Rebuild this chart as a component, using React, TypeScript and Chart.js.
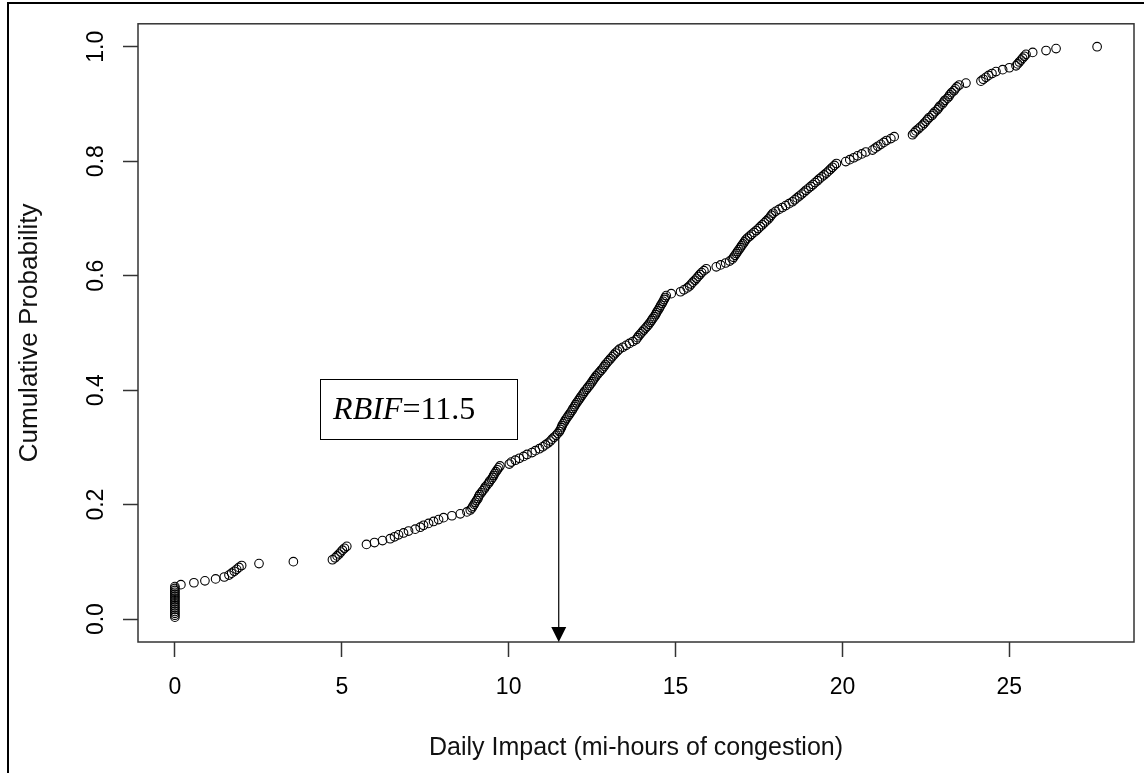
import React, { useEffect, useRef } from "react";
import { Chart, registerables } from "chart.js";

Chart.register(...registerables);

// Daily impact of each observed day (mi-hours of congestion), sorted ascending
const dailyImpact: number[] = [
  0, 0, 0, 0, 0, 0, 0, 0, 0, 0, 0, 0, 0, 0, 0, 0, 0,
  0.18, 0.57, 0.9, 1.22, 1.48, 1.62, 1.7, 1.78, 1.85, 1.92, 2.0, 2.52, 3.55,
  4.72, 4.8, 4.86, 4.92, 4.97, 5.02, 5.08, 5.15,
  5.74, 5.98, 6.22, 6.45, 6.58, 6.7, 6.85, 7.0, 7.2, 7.35, 7.45, 7.6, 7.75, 7.9, 8.05, 8.3, 8.55, 8.75,
  8.85, 8.9, 8.93, 8.97, 9.0, 9.04, 9.08, 9.1, 9.13, 9.18, 9.22, 9.27, 9.3, 9.35, 9.4, 9.43, 9.48, 9.52,
  9.55, 9.58, 9.62, 9.66, 9.7, 9.74,
  10.02, 10.08, 10.2, 10.32, 10.45,
  10.55, 10.7, 10.8, 10.92, 11.02, 11.1,
  11.18, 11.25, 11.3, 11.36, 11.42, 11.47,
  11.52, 11.55, 11.58, 11.6, 11.63, 11.67, 11.7, 11.74, 11.78, 11.82, 11.86, 11.9, 11.93, 11.97, 12.0, 12.04,
  12.08, 12.12, 12.16, 12.2, 12.24, 12.28, 12.33, 12.37, 12.42, 12.46, 12.5, 12.54, 12.58, 12.62, 12.67, 12.72,
  12.77, 12.82, 12.86, 12.9, 12.95, 13.0, 13.05, 13.1, 13.15, 13.2, 13.26, 13.32,
  13.42, 13.52, 13.62, 13.72, 13.82,
  13.86, 13.9, 13.95, 14.0, 14.05, 14.1, 14.15, 14.2, 14.24, 14.28, 14.32,
  14.36, 14.4, 14.43, 14.46, 14.5, 14.53, 14.56, 14.6, 14.63, 14.66, 14.69, 14.72,
  14.87,
  15.15, 15.25, 15.35, 15.42,
  15.47, 15.52, 15.58, 15.63, 15.68, 15.73, 15.78, 15.85, 15.92,
  16.22, 16.35, 16.5, 16.62,
  16.7, 16.74, 16.78, 16.82, 16.86, 16.9, 16.94, 16.98, 17.02, 17.06, 17.1, 17.15, 17.22,
  17.28, 17.35, 17.42, 17.48, 17.54, 17.6, 17.66, 17.72, 17.78, 17.83, 17.87, 17.92,
  18.0, 18.1, 18.2, 18.3, 18.4, 18.5,
  18.57, 18.64, 18.71, 18.78, 18.85, 18.91,
  18.98, 19.05, 19.12, 19.18, 19.25, 19.31,
  19.38, 19.45, 19.52, 19.58, 19.64, 19.7, 19.76, 19.82,
  20.1, 20.22, 20.34, 20.45, 20.58, 20.7,
  20.9, 20.98, 21.06, 21.15, 21.24, 21.32,
  21.45, 21.55,
  22.1, 22.15, 22.2, 22.27, 22.33, 22.4, 22.45, 22.5,
  22.55, 22.6, 22.68, 22.72, 22.77, 22.84, 22.88, 22.92, 22.99, 23.03, 23.07, 23.14, 23.19, 23.22, 23.27,
  23.34, 23.38, 23.43, 23.5,
  23.7,
  24.15, 24.22, 24.3, 24.38, 24.48, 24.6,
  24.8, 25.0,
  25.2, 25.25, 25.3, 25.35, 25.4, 25.45, 25.5,
  25.7, 26.1, 26.4, 27.63,
];

const xTickValues: number[] = [0, 5, 10, 15, 20, 25];
const yTickValues: number[] = [0, 0.2, 0.4, 0.6, 0.8, 1.0];

const xAxisTitle = "Daily Impact (mi-hours of congestion)";
const yAxisTitle = "Cumulative Probability";

// Reliability-based impact factor marked on the curve
const rbifName = "RBIF";
const rbifValue = 11.5;

// Empirical cumulative probability of each sorted day
const cumulativeProbability: number[] = dailyImpact.map((_, i) => (i + 1) / dailyImpact.length);

// Label box placement, in axis units
const labelBox = { xFrom: 4.35, xTo: 10.25, yFrom: 0.316, yTo: 0.42 };

const SANS = "'Liberation Sans', Arial, Helvetica, sans-serif";
const SERIF = "'Liberation Serif', 'Times New Roman', Times, serif";

// R-style axis ranges: data range widened by 4% on each side
const xLo = Math.min(...dailyImpact);
const xHi = Math.max(...dailyImpact);
const xPad = (xHi - xLo) * 0.04;
const yLo = 0;
const yHi = 1;
const yPad = (yHi - yLo) * 0.04;

const decorations = {
  id: "decorations",
  afterDraw(chart: any) {
    const { ctx, chartArea: a, scales } = chart;
    const xs = scales.x;
    const ys = scales.y;
    ctx.save();

    // figure frame
    ctx.strokeStyle = "#000";
    ctx.lineWidth = 2;
    ctx.beginPath();
    ctx.moveTo(8, chart.height);
    ctx.lineTo(8, 3);
    ctx.lineTo(chart.width, 3);
    ctx.stroke();

    // plot box
    ctx.strokeStyle = "#333";
    ctx.lineWidth = 1.5;
    ctx.strokeRect(a.left, a.top, a.right - a.left, a.bottom - a.top);

    // arrow from the curve down to the axis at RBIF
    const share = dailyImpact.filter((v) => v <= rbifValue).length / dailyImpact.length;
    const ax = xs.getPixelForValue(rbifValue);
    const ayTop = ys.getPixelForValue(share);
    const tipY = a.bottom;
    const headLen = 15;
    const headHalf = 7.5;
    ctx.strokeStyle = "#000";
    ctx.lineWidth = 1.2;
    ctx.beginPath();
    ctx.moveTo(ax, ayTop);
    ctx.lineTo(ax, tipY - headLen + 1);
    ctx.stroke();
    ctx.fillStyle = "#000";
    ctx.beginPath();
    ctx.moveTo(ax - headHalf, tipY - headLen);
    ctx.lineTo(ax + headHalf, tipY - headLen);
    ctx.lineTo(ax, tipY);
    ctx.closePath();
    ctx.fill();

    // RBIF label box
    const bx0 = xs.getPixelForValue(labelBox.xFrom);
    const bx1 = xs.getPixelForValue(labelBox.xTo);
    const by0 = ys.getPixelForValue(labelBox.yTo);
    const by1 = ys.getPixelForValue(labelBox.yFrom);
    ctx.fillStyle = "#fff";
    ctx.fillRect(bx0, by0, bx1 - bx0, by1 - by0);
    ctx.strokeStyle = "#000";
    ctx.lineWidth = 1;
    ctx.strokeRect(Math.round(bx0) + 0.5, Math.round(by0) + 0.5, Math.round(bx1 - bx0), Math.round(by1 - by0));

    const fontSize = 32;
    const baseY = (by0 + by1) / 2 + fontSize * 0.33;
    let tx = bx0 + 13;
    ctx.fillStyle = "#000";
    ctx.textBaseline = "alphabetic";
    ctx.textAlign = "left";
    ctx.font = `italic ${fontSize}px ${SERIF}`;
    ctx.fillText(rbifName, tx, baseY);
    tx += ctx.measureText(rbifName).width;
    ctx.font = `${fontSize}px ${SERIF}`;
    ctx.fillText(`=${rbifValue.toFixed(1)}`, tx, baseY);

    ctx.restore();
  },
};

export default function App() {
  const canvasRef = useRef<HTMLCanvasElement | null>(null);

  useEffect(() => {
    const canvas = canvasRef.current;
    if (!canvas) return;
    const points = dailyImpact.map((x, i) => ({ x, y: cumulativeProbability[i] }));

    const chart = new Chart(canvas, {
      type: "scatter",
      data: {
        datasets: [
          {
            data: points,
            pointStyle: "circle",
            pointRadius: 4.3,
            pointBorderWidth: 1.1,
            pointBorderColor: "#000",
            pointBackgroundColor: "rgba(0,0,0,0)",
            showLine: false,
          },
        ],
      },
      options: {
        animation: false,
        responsive: true,
        maintainAspectRatio: false,
        events: [],
        layout: { padding: { left: 0, top: 20, right: 10, bottom: 0 } },
        plugins: {
          legend: { display: false },
          tooltip: { enabled: false },
        },
        scales: {
          x: {
            type: "linear",
            position: "bottom",
            min: xLo - xPad,
            max: xHi + xPad,
            afterBuildTicks: (scale: any) => {
              scale.ticks = xTickValues.map((value) => ({ value }));
            },
            afterFit: (scale: any) => {
              scale.height = 131;
            },
            border: { display: false },
            grid: {
              display: true,
              drawOnChartArea: false,
              drawTicks: true,
              tickLength: 15,
              tickColor: "#333",
              tickWidth: 1.5,
            },
            ticks: {
              autoSkip: false,
              maxRotation: 0,
              minRotation: 0,
              padding: 17,
              color: "#000",
              font: { family: SANS, size: 23 },
              callback: (v: any) => String(v),
            },
            title: {
              display: true,
              text: xAxisTitle,
              color: "#111",
              font: { family: SANS, size: 25 },
              padding: { top: 0, bottom: 10 },
            },
          },
          y: {
            type: "linear",
            position: "left",
            min: yLo - yPad,
            max: yHi + yPad,
            afterBuildTicks: (scale: any) => {
              scale.ticks = yTickValues.map((value) => ({ value }));
            },
            afterFit: (scale: any) => {
              scale.width = 138;
            },
            border: { display: false },
            grid: {
              display: true,
              drawOnChartArea: false,
              drawTicks: true,
              tickLength: 15,
              tickColor: "#333",
              tickWidth: 1.5,
            },
            ticks: {
              autoSkip: false,
              minRotation: 90,
              maxRotation: 90,
              crossAlign: "center",
              padding: 10,
              color: "#000",
              font: { family: SANS, size: 23 },
              callback: (v: any) => Number(v).toFixed(1),
            },
            title: {
              display: true,
              text: yAxisTitle,
              color: "#111",
              font: { family: SANS, size: 26 },
              padding: { top: 14, bottom: 0 },
            },
          },
        },
      },
      plugins: [decorations],
    });

    return () => chart.destroy();
  }, []);

  return (
    <div style={{ position: "absolute", left: 0, top: 0, width: 1144, height: 773, background: "#fff" }}>
      <canvas ref={canvasRef} />
    </div>
  );
}
